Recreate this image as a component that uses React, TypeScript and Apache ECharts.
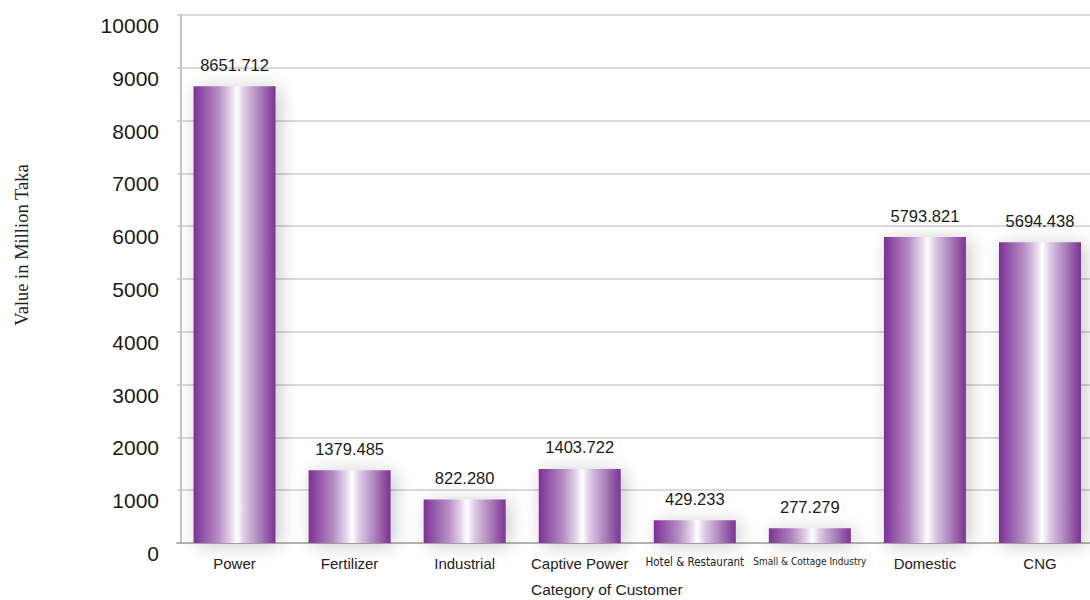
import React, { useEffect, useRef } from "react";
import * as echarts from "echarts";

const categories = [
  "Power",
  "Fertilizer",
  "Industrial",
  "Captive Power",
  "Hotel & Restaurant",
  "Small & Cottage Industry",
  "Domestic",
  "CNG",
];
const values = [8651.712, 1379.485, 822.28, 1403.722, 429.233, 277.279, 5793.821, 5694.438];
const valueLabels = ["8651.712", "1379.485", "822.280", "1403.722", "429.233", "277.279", "5793.821", "5694.438"];
const narrowLabels: Record<string, string> = {
  "Hotel & Restaurant": "n1",
  "Small & Cottage Industry": "n2",
};

export default function App() {
  const ref = useRef<HTMLDivElement>(null);
  useEffect(() => {
    document.body.style.margin = "0";
    if (!ref.current) return;
    const chart = echarts.init(ref.current, null, { renderer: "svg" });
    const purple = "#7d3195";
    const grad = new echarts.graphic.LinearGradient(0, 0, 1, 0, [
      { offset: 0, color: purple },
      { offset: 0.3, color: "#b58cc4" },
      { offset: 0.45, color: "#e2d2e8" },
      { offset: 0.53, color: "#ffffff" },
      { offset: 0.62, color: "#ddcbe4" },
      { offset: 0.85, color: "#a070b2" },
      { offset: 1, color: purple },
    ]);
    chart.setOption({
      animation: false,
      backgroundColor: "#ffffff",
      grid: { left: 177, right: 2.5, top: 15, bottom: 57 },
      xAxis: {
        type: "category",
        data: categories,
        axisTick: { show: false },
        axisLine: { lineStyle: { color: "#b4b4b4", width: 2 } },
        axisLabel: {
          color: "#222",
          fontSize: 15,
          fontFamily: "Liberation Sans, Arial, sans-serif",
          margin: 13,
          interval: 0,
          formatter: (v: string) => (narrowLabels[v] ? `{${narrowLabels[v]}|${v}}` : v),
          rich: {
            n1: { fontFamily: "DejaVu Sans Condensed, Liberation Sans Narrow, sans-serif", fontSize: 11.5, color: "#222" },
            n2: { fontFamily: "DejaVu Sans Condensed, Liberation Sans Narrow, sans-serif", fontSize: 10, color: "#222" },
          },
        },
      },
      yAxis: {
        type: "value",
        min: 0,
        max: 10000,
        interval: 1000,
        offset: -4,
        axisLine: { show: true, lineStyle: { color: "#c4c4c4", width: 2 } },
        axisTick: { show: false },
        splitLine: { lineStyle: { color: "#cdcdcd", width: 1.5 } },
        axisLabel: {
          color: "#1a1a1a",
          fontSize: 21,
          fontFamily: "Liberation Sans, Arial, sans-serif",
          margin: 22,
          verticalAlign: "top",
          formatter: (v: number) => String(v),
        },
      },
      series: [
        {
          type: "bar",
          data: values,
          barWidth: 82,
          itemStyle: {
            color: grad,
            shadowBlur: 18,
            shadowColor: "rgba(0,0,0,0.22)",
            shadowOffsetX: 4,
            shadowOffsetY: 2,
          },
          label: {
            show: true,
            position: "top",
            distance: 13,
            color: "#1a1a1a",
            fontSize: 16.5,
            fontFamily: "Liberation Sans, Arial, sans-serif",
            formatter: (p: any) => valueLabels[p.dataIndex],
          },
        },
      ],
      graphic: [
        {
          type: "text",
          left: 531,
          top: 581,
          style: {
            text: "Category of Customer",
            fontSize: 15.5,
            fontFamily: "Liberation Sans, Arial, sans-serif",
            fill: "#222",
          },
        },
        {
          type: "text",
          x: 22,
          y: 245,
          rotation: Math.PI / 2,
          style: {
            text: "Value in Million Taka",
            fontSize: 18.5,
            fontFamily: "Liberation Serif, Times New Roman, serif",
            fill: "#222",
            align: "center",
            verticalAlign: "middle",
          },
        },
      ],
    });
    return () => chart.dispose();
  }, []);
  return (
    <div style={{ width: 1090, height: 600, overflow: "hidden" }}>
      <div ref={ref} style={{ width: 1100, height: 600 }} />
    </div>
  );
}
